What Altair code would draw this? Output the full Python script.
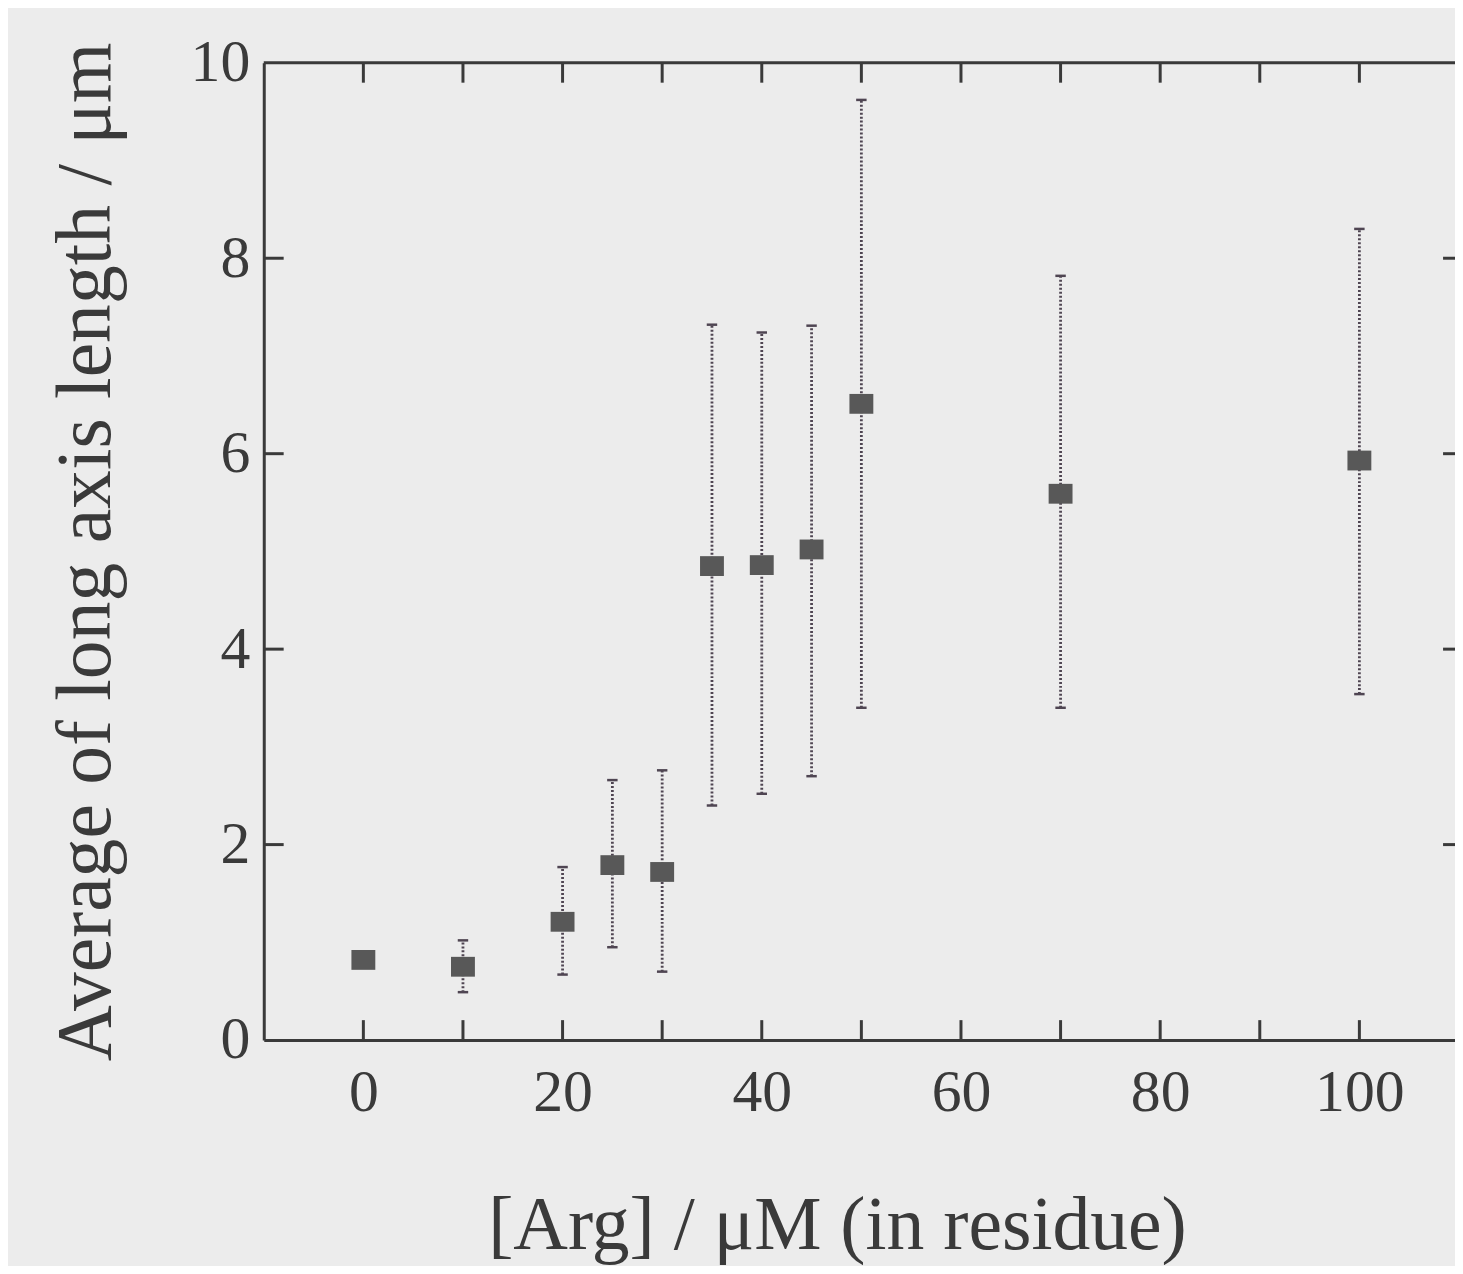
import altair as alt
import pandas as pd

# Data
arg_conc = [0, 10, 20, 25, 30, 35, 40, 45, 50, 70, 100]
avg_len = [0.82, 0.75, 1.21, 1.79, 1.72, 4.85, 4.86, 5.02, 6.51, 5.59, 5.93]
err_low = [None, 0.49, 0.67, 0.95, 0.70, 2.40, 2.52, 2.70, 3.40, 3.40, 3.54]
err_high = [None, 1.02, 1.77, 2.66, 2.76, 7.32, 7.24, 7.31, 9.62, 7.82, 8.30]

x_tick_values = [0, 10, 20, 30, 40, 50, 60, 70, 80, 90, 100]
x_label_values = [0, 20, 40, 60, 80, 100]
y_tick_values = [2, 4, 6, 8]
y_label_values = [0, 2, 4, 6, 8, 10]

W, H = 1197, 982
FONT = "Liberation Serif"
INK = "#3a3a3a"

pts = pd.DataFrame({"x": arg_conc, "y": avg_len})
err = pd.DataFrame({"x": arg_conc, "lo": err_low, "hi": err_high}).dropna()
caps = pd.concat([
    pd.DataFrame({"x": err["x"], "y": err["lo"]}),
    pd.DataFrame({"x": err["x"], "y": err["hi"]}),
])
xt = pd.DataFrame({"x": x_tick_values})
yt = pd.DataFrame({"y": y_tick_values})

xscale = alt.Scale(domain=[-10, 109.6], nice=False, zero=False)
yscale = alt.Scale(domain=[0, 10], nice=False)

xaxis = alt.Axis(
    values=x_label_values, ticks=False, tickSize=0, grid=False,
    labelFont=FONT, labelFontSize=60, labelColor=INK, labelPadding=71,
    labelBaseline="alphabetic", labelFlush=False,
    domainColor=INK, domainWidth=3,
    title="[Arg] / \u03bcM (in residue)", titleFont=FONT, titleFontSize=76,
    titleFontWeight="normal", titleColor=INK, titleBaseline="alphabetic",
    titleX=576, titleY=209, titleAlign="center",
)
yaxis = alt.Axis(
    values=y_label_values, ticks=False, tickSize=0, grid=False,
    labelFont=FONT, labelFontSize=60, labelColor=INK, labelPadding=14,
    labelFlush=False, labelBaseline="middle",
    domainColor=INK, domainWidth=3,
    title="Average of long axis length / \u03bcm", titleFont=FONT, titleFontSize=78,
    titleFontWeight="normal", titleColor=INK, titleBaseline="alphabetic",
    titleAngle=-90, titleX=-155, titleY=H / 2, titleAlign="center",
)

X = alt.X("x:Q", scale=xscale, axis=xaxis)
Y = alt.Y("y:Q", scale=yscale, axis=yaxis)

BAR_COLOR = "#4f4552"

bars = alt.Chart(err).mark_rule(
    color=BAR_COLOR, strokeWidth=2.8, strokeDash=[2, 2]
).encode(x=X, y=alt.Y("lo:Q", scale=yscale, axis=yaxis), y2="hi:Q")

cap_marks = alt.Chart(caps).mark_point(
    shape="M-1,0L1,0", size=110, stroke=BAR_COLOR, strokeWidth=2.5,
    filled=False, opacity=1
).encode(x=X, y=Y)

markers = alt.Chart(pts).mark_point(
    shape="M-1,-0.83L1,-0.83L1,0.83L-1,0.83Z", size=576,
    filled=True, fill="#585858", opacity=1, strokeWidth=0
).encode(x=X, y=Y)

tick_style = dict(color=INK, strokeWidth=3)
bottom_ticks = alt.Chart(xt).mark_rule(**tick_style).encode(
    x=X, y=alt.value(H), y2=alt.value(H - 20))
top_ticks = alt.Chart(xt).mark_rule(**tick_style).encode(
    x=X, y=alt.value(0), y2=alt.value(20))
left_ticks = alt.Chart(yt).mark_rule(**tick_style).encode(
    y=Y, x=alt.value(0), x2=alt.value(20))
right_ticks = alt.Chart(yt).mark_rule(**tick_style).encode(
    y=Y, x=alt.value(W), x2=alt.value(W - 12))
top_border = alt.Chart(pd.DataFrame({"v": [0]})).mark_rule(**tick_style).encode(
    x=alt.value(0), x2=alt.value(W), y=alt.value(0))

chart = alt.layer(
    bars, cap_marks, markers,
    bottom_ticks, top_ticks, left_ticks, right_ticks, top_border,
).properties(
    width=W, height=H,
    autosize=alt.AutoSizeParams(type="none"),
    padding={"left": 257, "top": 52, "right": 0, "bottom": 224},
    background="#ececec",
).configure_view(stroke=None)

chart.save("out.html", embed_options={"renderer": "svg", "actions": False})
